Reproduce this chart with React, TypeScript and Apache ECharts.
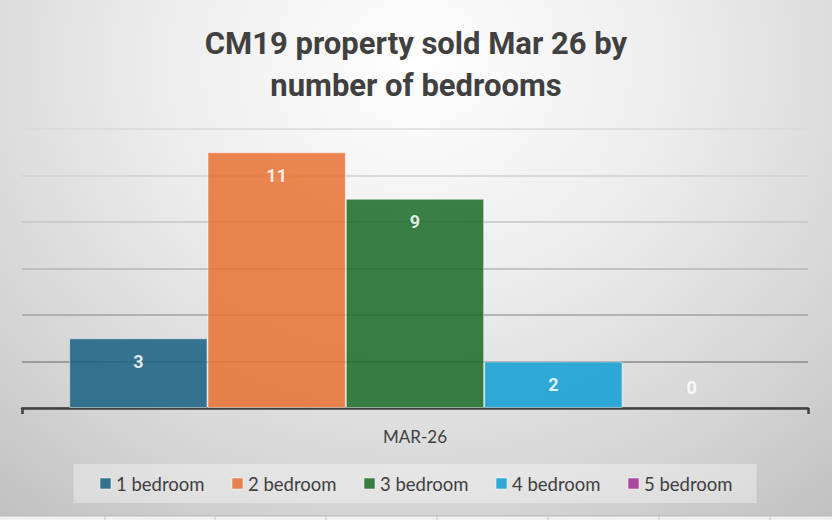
import React, { useEffect, useRef } from "react";
import * as echarts from "echarts";

const categories = ["MAR-26"];
const seriesNames = ["1 bedroom", "2 bedroom", "3 bedroom", "4 bedroom", "5 bedroom"];
const seriesValues = [3, 11, 9, 2, 0];
const seriesColors = ["#156082", "#E97132", "#196B24", "#0F9ED5", "#A02B93"];
const titleLines = ["CM19 property sold Mar 26 by", "number of bedrooms"];
const yMin = 0;
const yMax = 12;
const yStep = 2;
const sheetGridX = [105, 215, 326, 437, 548, 659, 770];

export default function App() {
  const ref = useRef<HTMLDivElement>(null);
  useEffect(() => {
    if (!ref.current) return;
    const chart = echarts.init(ref.current, undefined, { renderer: "svg" });
    const series = seriesNames.map((name, i) => {
      const v = seriesValues[i];
      return {
        name,
        type: "bar",
        barGap: "0%",
        barCategoryGap: "12%",
        itemStyle: {
          color: seriesColors[i],
          opacity: 0.85,
          borderColor: "rgba(255,255,255,0.55)",
          borderWidth: v === 0 ? 0 : 1,
        },
        label: {
          show: true,
          position: v === 0 ? "top" : "insideTop",
          distance: v === 0 ? 12 : 14,
          color: "#ffffff",
          fontWeight: "bold",
          fontSize: 18,
          lineHeight: 18,
          fontFamily: "Roboto",
        },
        data: [v],
      };
    });
    chart.setOption({
      animation: false,
      title: {
        text: titleLines.join("\n"),
        left: "center",
        top: 17,
        textStyle: {
          fontSize: 31,
          lineHeight: 42,
          fontWeight: "bold",
          color: "#404040",
          fontFamily: "Roboto, sans-serif",
        },
      },
      legend: {
        data: seriesNames,
        left: "center",
        top: 464,
        itemWidth: 11,
        itemHeight: 11,
        itemGap: 27,
        padding: [10, 24, 10, 26],
        backgroundColor: "rgba(255,255,255,0.35)",
        icon: "rect",
        itemStyle: { borderColor: "rgba(255,255,255,0.6)", borderWidth: 1 },
        textStyle: { fontSize: 18.5, color: "#404040", fontFamily: "Lato" },
      },
      grid: { left: 22, right: 24, top: 129, bottom: 112, containLabel: false },
      xAxis: {
        type: "category",
        data: categories,
        axisLine: { lineStyle: { color: "#404040", width: 2.5 } },
        axisTick: { show: true, length: 6, lineStyle: { color: "#404040", width: 2.5 } },
        axisLabel: { color: "#404040", fontSize: 17, fontFamily: "Lato", margin: 20 },
        splitLine: { show: false },
      },
      yAxis: {
        type: "value",
        min: yMin,
        max: yMax,
        interval: yStep,
        axisLine: { show: false },
        axisTick: { show: false },
        axisLabel: { show: false },
        splitLine: {
          lineStyle: {
            width: 1.5,
            color: ["#888888", "#8a8a8a", "#a2a2a2", "#b6b6b6", "#c6c6c6", "#d1d1d1", "#dadada"],
          },
        },
      },
      graphic: [
        {
          type: "rect",
          shape: { x: 0, y: 516, width: 832, height: 4 },
          style: { fill: "#f2f2f2" },
          silent: true,
        },
        {
          type: "line",
          shape: { x1: 0, y1: 516, x2: 832, y2: 516 },
          style: { stroke: "#b8b8b8", lineWidth: 1 },
          silent: true,
        },
        ...sheetGridX.map((x) => ({
          type: "line",
          shape: { x1: x, y1: 516, x2: x, y2: 520 },
          style: { stroke: "#c4c4c4", lineWidth: 1 },
          silent: true,
        })),
      ],
      series,
    });
    return () => chart.dispose();
  }, []);
  return (
    <div
      ref={ref}
      style={{
        position: "absolute",
        left: 0,
        top: 0,
        width: 832,
        height: 520,
        background:
          "radial-gradient(ellipse 80% 115% at 50% 12%, #ffffff 0%, #ececec 40%, #d4d4d4 75%, #bfbfbf 100%)",
      }}
    />
  );
}
